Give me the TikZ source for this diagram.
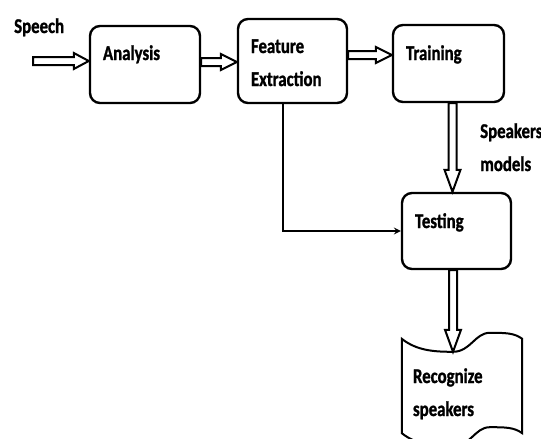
\documentclass[tikz,border=0pt]{standalone}
\usepackage{fontspec}
\setmainfont{Carlito}[FakeStretch=0.8,BoldFeatures={FakeBold=1.2}]
\usetikzlibrary{shapes,positioning,calc}
\tikzset{blk/.style={draw,rounded corners=10pt,line width=2.4pt,align=left,inner ysep=0pt,inner xsep=13pt},
  lbl/.style={inner sep=0pt,align=left,anchor=base west},
  hollow/.style={line width=2pt,to path={
    let \p1=(\tikztostart),\p2=(\tikztotarget),
        \n1={atan2(\y2-\y1,\x2-\x1)},
        \n2={veclen(\x2-\x1,\y2-\y1)-#1} in
    ($(\p1)+(\n1+90:4pt)$) -- ($(\p1)+(\n1:\n2)+(\n1+90:4pt)$)
    -- ($(\p1)+(\n1:\n2)+(\n1+90:8pt)$) -- (\p2)
    -- ($(\p1)+(\n1:\n2)+(\n1-90:8pt)$) -- ($(\p1)+(\n1:\n2)+(\n1-90:4pt)$)
    -- ($(\p1)+(\n1-90:4pt)$) -- cycle}},
  hollow/.default=16pt}

\begin{document}
\begin{tikzpicture}[x=1pt,y=-1pt,>=stealth,font=\bfseries\fontsize{21}{33}\selectfont]
        \clip (0,0) rectangle (541,439);

        \node[blk,text width=84pt,text height=34pt,text depth=43pt] (an) at (145,64.5) {Analysis};
        \node[blk,text width=83pt,text height=34pt,text depth=50pt] (fe) at (292.5,61) {Feature\\Extraction};
        \node[blk,text width=85pt,text height=35pt,text depth=42pt] (tr) at (448.5,63.5) {Training};
        \node[blk,text width=83pt,text height=35pt,text depth=41pt] (te) at (456.5,231) {Testing};
        \node[align=left,text width=98pt,inner xsep=11pt,inner ysep=0pt,
              text height=44pt,text depth=50pt] (rs) at (462,386) {Recognize\\speakers};

        \node[lbl] (sp) at (14,33) {Speech};
        \node[lbl,text width=70pt] (sm) at (480,138) {Speakers\\models};

        % wavy outline round the output
        \coordinate (dp) at ($(rs.north west)+(51,13)$);
        \coordinate (hu) at ($(rs.north west)+(88,-6)$);
        \coordinate (hb) at ($(rs.south west)+(88,-6)$);
        \coordinate (db) at ($(rs.south west)+(51,13)$);
        \draw [line width=2pt] (rs.north west) .. controls +(15,12) and +(-18,0) .. (dp)
              .. controls +(18,0) and +(-15,0) .. (hu)
              .. controls +(15,0) and +(-8,-6) .. (rs.north east) -- (rs.south east)
              .. controls +(-8,-6) and +(15,0) .. (hb)
              .. controls +(-15,0) and +(18,0) .. (db)
              .. controls +(-18,0) and +(15,12) .. (rs.south west) -- cycle;

        \coordinate (in) at (33,61);
        \coordinate (p) at ([yshift=2.5pt]an.east);
        \coordinate (q) at ([yshift=6pt]fe.east);
        \coordinate (r) at ([xshift=4pt]tr.south);
        \coordinate (s) at ([xshift=-3.5pt]te.south);
        \coordinate (t) at ([xshift=-9.5pt]fe.south);

        \draw [hollow=15pt] (in) to (in -| an.west);
        \draw [hollow] (p) to (p -| fe.west);
        \draw [hollow] (q) to (q -| tr.west);
        \draw [hollow=22pt] (r) to (r |- te.north);
        \draw [hollow=22pt] (s) to (s |- dp);
        \draw [->,line width=2pt] (t) |- (te.west);
    \end{tikzpicture}
\end{document}
